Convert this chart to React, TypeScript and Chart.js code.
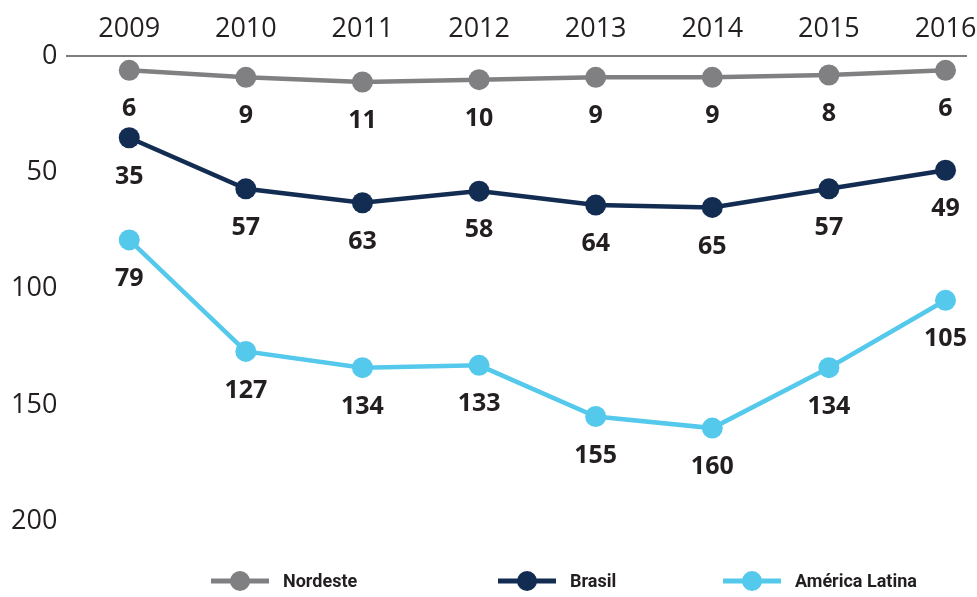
import { useEffect, useRef } from "react";
import { Chart, registerables } from "chart.js";

Chart.register(...registerables);

const years = [2009, 2010, 2011, 2012, 2013, 2014, 2015, 2016];
const nordeste = [6, 9, 11, 10, 9, 9, 8, 6];
const brasil = [35, 57, 63, 58, 64, 65, 57, 49];
const americaLatina = [79, 127, 134, 133, 155, 160, 134, 105];
const yTickValues = [0, 50, 100, 150, 200];
const seriesNames = ["Nordeste", "Brasil", "América Latina"];
const seriesColors = ["#808083", "#132c52", "#55c9ec"];

const TEXT = "#231f20";

const pointLabelsPlugin = {
  id: "pointLabels",
  afterDatasetsDraw(chart: any) {
    const ctx = chart.ctx;
    ctx.save();
    ctx.font = "bold 25px 'Open Sans'";
    ctx.fillStyle = TEXT;
    ctx.textAlign = "center";
    ctx.textBaseline = "middle";
    chart.data.datasets.forEach((ds: any, i: number) => {
      const meta = chart.getDatasetMeta(i);
      meta.data.forEach((pt: any, j: number) => {
        ctx.fillText(String(ds.data[j].y), pt.x, pt.y + 39);
      });
    });
    ctx.restore();
  },
};

const lineLegendPlugin = {
  id: "lineLegend",
  afterDraw(chart: any, _args: any, opts: any) {
    const ctx = chart.ctx;
    const y = opts.y;
    ctx.save();
    chart.data.datasets.forEach((ds: any, i: number) => {
      const x0 = opts.starts[i];
      ctx.strokeStyle = ds.borderColor;
      ctx.lineWidth = 5;
      ctx.beginPath();
      ctx.moveTo(x0, y);
      ctx.lineTo(x0 + 58, y);
      ctx.stroke();
      ctx.fillStyle = ds.borderColor;
      ctx.beginPath();
      ctx.arc(x0 + 29, y, 10, 0, Math.PI * 2);
      ctx.fill();
      ctx.fillStyle = TEXT;
      ctx.font = opts.font;
      ctx.textAlign = "left";
      ctx.textBaseline = "middle";
      ctx.fillText(ds.label, x0 + 72, y + 1);
    });
    ctx.restore();
  },
};

export default function App() {
  const ref = useRef<HTMLCanvasElement | null>(null);

  useEffect(() => {
    if (!ref.current) return;
    const allSeries = [nordeste, brasil, americaLatina];
    const chart = new Chart(ref.current, {
      type: "line",
      data: {
        datasets: allSeries.map((vals, i) => ({
          label: seriesNames[i],
          data: vals.map((v, j) => ({ x: years[j], y: v })),
          borderColor: seriesColors[i],
          backgroundColor: seriesColors[i],
          pointBackgroundColor: seriesColors[i],
          pointBorderWidth: 0,
          pointRadius: 10.5,
          borderWidth: 4.5,
          tension: 0,
          fill: false,
        })),
      },
      options: {
        animation: false,
        responsive: true,
        maintainAspectRatio: false,
        layout: { padding: { top: 2, left: 1, right: 9, bottom: 76 } },
        plugins: {
          legend: { display: false },
          tooltip: { enabled: false },
          lineLegend: {
            y: 581,
            starts: [211, 498, 723],
            font: "bold 18px Roboto",
          },
        } as any,
        scales: {
          x: {
            type: "linear",
            position: "top",
            min: 2008.469,
            max: 2016.18,
            afterBuildTicks: (scale: any) => {
              scale.ticks = years.map((v) => ({ value: v }));
            },
            afterFit: (scale: any) => {
              scale.paddingLeft = 0;
              scale.paddingRight = 0;
            },
            ticks: {
              callback: (v: any) => String(v),
              font: { family: "'Open Sans'", size: 27 },
              color: TEXT,
              padding: 11,
              autoSkip: false,
              maxRotation: 0,
            },
            grid: { display: false, drawTicks: false },
            border: { display: true, color: "#7d7d80", width: 2 },
          },
          y: {
            min: 0,
            max: 200,
            reverse: true,
            afterBuildTicks: (scale: any) => {
              scale.ticks = yTickValues.map((v) => ({ value: v }));
            },
            ticks: {
              font: { family: "'Open Sans'", size: 27 },
              color: TEXT,
              padding: 10,
            },
            grid: { display: false, drawTicks: false },
            border: { display: false },
          },
        },
      },
      plugins: [pointLabelsPlugin, lineLegendPlugin],
    });
    return () => chart.destroy();
  }, []);

  return (
    <div style={{ position: "fixed", left: 0, top: 0, width: 977, height: 597, background: "#fff" }}>
      <canvas ref={ref} />
    </div>
  );
}
